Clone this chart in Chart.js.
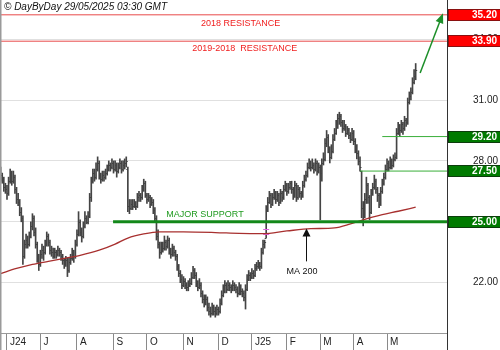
<!DOCTYPE html>
<html>
<head>
<meta charset="utf-8">
<script src="https://cdn.jsdelivr.net/npm/chart.js@4.4.1/dist/chart.umd.min.js"></script>
<style>
  html, body { margin: 0; padding: 0; background: #fff; }
  canvas { display: block; }
</style>
</head>
<body>
<canvas id="chart" width="500" height="350"></canvas>
<script>
// daily OHLC, one entry per session (index 0 = end of May 2024)
const opens = [
  27.5, 27.3, 27.1, 26.7, 26.6, 26.4, 27.0, 27.3, 27.0, 27.2,
  26.6, 26.1, 26.0, 25.5, 25.2, 23.3, 23.9, 24.1, 23.9, 24.3,
  24.8, 25.2, 24.5, 23.9, 23.2, 22.9, 23.4, 23.6, 23.5, 23.9,
  24.3, 24.0, 23.6, 23.5, 23.3, 23.5, 23.4, 23.6, 23.5, 23.3,
  23.1, 22.9, 23.1, 22.6, 23.0, 23.2, 23.4, 23.3, 23.9, 24.4,
  25.0, 24.5, 24.3, 24.8, 25.2, 25.0, 25.3, 26.2, 27.0, 27.4,
  27.2, 27.6, 27.9, 27.3, 27.1, 27.3, 27.2, 27.4, 27.6, 27.8,
  27.7, 27.9, 27.6, 27.8, 27.5, 27.7, 27.9, 27.6, 27.8, 27.9,
  27.6, 25.8, 25.7, 25.9, 25.8, 25.9, 25.8, 26.2, 26.3, 26.2,
  26.6, 26.9, 26.3, 26.1, 26.2, 25.9, 26.0, 25.6, 25.2, 24.3,
  23.9, 23.5, 23.8, 23.7, 24.0, 23.8, 24.1, 23.6, 23.4, 23.7,
  23.5, 23.3, 22.8, 22.5, 22.2, 21.9, 22.1, 21.9, 21.8, 21.9,
  22.0, 22.3, 22.6, 22.4, 22.0, 21.8, 21.9, 21.5, 21.2, 21.0,
  21.2, 20.8, 20.6, 20.5, 20.8, 20.6, 20.5, 20.7, 20.6, 21.0,
  21.4, 21.6, 21.9, 21.7, 21.9, 21.8, 21.7, 21.9, 21.8, 21.7,
  21.5, 21.8, 21.6, 21.5, 21.3, 21.7, 22.2, 22.4, 22.3, 22.5,
  22.4, 22.7, 22.8, 22.9, 22.8, 23.5, 23.9, 24.2, 25.6, 26.0,
  26.3, 25.9, 26.2, 26.4, 26.1, 26.3, 26.0, 26.4, 26.2, 26.6,
  26.8, 26.5, 26.7, 26.9, 26.6, 26.3, 26.8, 26.2, 26.6, 26.4,
  26.3, 26.8, 27.1, 27.3, 27.7, 27.9, 27.7, 27.8, 27.6, 27.9,
  27.5, 27.7, 27.4, 27.9, 28.1, 28.9, 29.2, 28.6, 28.2, 28.5,
  29.1, 29.4, 29.8, 30.1, 30.2, 29.9, 29.6, 29.7, 29.4, 29.5,
  29.3, 29.1, 29.4, 29.0, 28.6, 28.4, 28.0, 27.5, 25.7, 25.3,
  26.1, 26.8, 26.2, 25.5, 26.4, 26.7, 27.0, 26.6, 26.3, 25.9,
  26.5, 26.9, 27.2, 27.6, 27.9, 27.7, 28.0, 27.8, 28.1, 28.2,
  29.4, 29.7, 29.5, 29.8, 29.6, 30.0, 29.9, 30.9, 31.2, 31.4,
  31.9, 32.2
];
const highs = [
  27.7, 27.4, 27.2, 26.9, 26.8, 27.2, 27.6, 27.5, 27.5, 27.3,
  26.7, 26.4, 26.1, 25.7, 25.3, 24.1, 24.4, 24.3, 24.5, 25.0,
  25.4, 25.3, 24.7, 24.0, 23.4, 23.6, 23.9, 23.8, 24.1, 24.5,
  24.4, 24.1, 23.8, 23.7, 23.7, 23.6, 23.8, 23.7, 23.6, 23.4,
  23.2, 23.3, 23.2, 23.2, 23.4, 23.7, 23.6, 24.1, 24.6, 25.5,
  25.1, 24.7, 25.0, 25.5, 25.3, 25.5, 26.4, 27.2, 27.6, 27.6,
  27.9, 28.2, 28.0, 27.4, 27.5, 27.5, 27.6, 27.8, 28.0, 27.9,
  28.1, 28.0, 28.0, 27.9, 27.9, 28.1, 28.0, 28.0, 28.1, 28.2,
  27.7, 26.1, 26.1, 26.1, 26.1, 26.0, 26.4, 26.5, 26.4, 26.8,
  27.1, 27.0, 26.4, 26.4, 26.3, 26.2, 26.1, 25.7, 25.3, 24.6,
  24.0, 24.0, 24.0, 24.3, 24.1, 24.3, 24.2, 23.7, 23.9, 23.8,
  23.6, 23.4, 22.9, 22.6, 22.4, 22.3, 22.2, 22.0, 22.1, 22.2,
  22.5, 22.8, 22.7, 22.5, 22.1, 22.2, 22.0, 21.6, 21.4, 21.4,
  21.3, 21.0, 20.8, 21.0, 20.9, 20.8, 20.9, 20.8, 21.2, 21.6,
  21.9, 22.1, 22.0, 22.1, 22.0, 21.9, 22.1, 22.0, 21.9, 21.8,
  22.0, 21.9, 21.7, 21.6, 21.9, 22.4, 22.6, 22.5, 22.7, 22.6,
  22.9, 23.0, 23.1, 23.0, 23.7, 24.1, 24.1, 25.8, 26.2, 26.5,
  26.4, 26.4, 26.6, 26.5, 26.5, 26.4, 26.6, 26.5, 26.8, 27.0,
  26.9, 26.9, 27.0, 27.0, 26.7, 27.0, 26.9, 26.8, 26.7, 26.5,
  27.0, 27.3, 27.5, 27.9, 28.1, 28.0, 28.1, 27.9, 28.1, 28.0,
  27.9, 27.8, 28.1, 28.4, 29.1, 29.5, 29.3, 28.7, 28.8, 29.3,
  29.6, 30.0, 30.3, 30.4, 30.3, 30.0, 30.0, 29.8, 29.7, 29.6,
  29.4, 29.6, 29.5, 29.1, 28.8, 28.5, 28.2, 27.5, 26.0, 26.4,
  27.2, 26.9, 26.3, 26.6, 26.9, 27.3, 27.1, 26.7, 26.4, 26.7,
  27.1, 27.4, 27.8, 28.1, 28.0, 28.2, 28.1, 28.3, 28.4, 29.6,
  29.9, 29.8, 30.0, 29.9, 30.2, 30.1, 31.1, 31.4, 31.6, 32.1,
  32.5, 32.8
];
const lows = [
  27.0, 26.9, 26.5, 26.4, 26.1, 26.3, 26.9, 26.8, 26.9, 26.4,
  25.9, 25.8, 25.3, 25.0, 22.9, 23.2, 23.7, 23.7, 23.8, 24.2,
  24.6, 24.3, 23.7, 23.0, 22.6, 22.8, 23.2, 23.1, 23.4, 23.8,
  23.8, 23.4, 23.3, 23.2, 23.2, 23.2, 23.3, 23.3, 23.1, 22.9,
  22.7, 22.8, 22.3, 22.5, 22.9, 23.1, 23.0, 23.2, 23.8, 24.3,
  24.3, 24.0, 24.2, 24.7, 24.9, 24.9, 25.2, 26.0, 26.9, 27.0,
  27.1, 27.5, 27.1, 26.9, 27.0, 27.0, 27.1, 27.3, 27.5, 27.5,
  27.6, 27.4, 27.5, 27.2, 27.4, 27.6, 27.4, 27.5, 27.6, 27.7,
  25.5, 25.4, 25.6, 25.6, 25.7, 25.6, 25.7, 26.0, 26.0, 26.1,
  26.5, 26.2, 25.9, 26.0, 25.7, 25.8, 25.4, 25.0, 24.1, 23.7,
  23.2, 23.4, 23.5, 23.6, 23.6, 23.7, 23.4, 23.2, 23.3, 23.3,
  23.1, 22.6, 22.3, 22.0, 21.7, 21.8, 21.7, 21.6, 21.6, 21.8,
  21.9, 22.2, 22.2, 21.8, 21.6, 21.7, 21.3, 21.0, 20.8, 20.9,
  20.6, 20.4, 20.3, 20.4, 20.4, 20.3, 20.4, 20.4, 20.5, 20.9,
  21.3, 21.5, 21.5, 21.6, 21.6, 21.5, 21.6, 21.6, 21.5, 21.3,
  21.4, 21.4, 21.3, 21.1, 20.7, 21.6, 22.1, 22.1, 22.2, 22.2,
  22.3, 22.6, 22.7, 22.6, 22.7, 23.4, 23.7, 24.2, 25.5, 25.9,
  25.7, 25.8, 26.1, 25.9, 26.0, 25.8, 25.9, 26.0, 26.1, 26.5,
  26.3, 26.4, 26.6, 26.4, 26.1, 26.2, 26.0, 26.1, 26.2, 26.1,
  26.2, 26.7, 27.0, 27.2, 27.6, 27.5, 27.6, 27.4, 27.5, 27.3,
  27.4, 25.1, 27.0, 27.8, 28.0, 28.7, 28.4, 27.9, 28.1, 28.4,
  29.0, 29.3, 29.6, 29.8, 29.7, 29.4, 29.5, 29.2, 29.3, 29.1,
  28.9, 29.0, 28.8, 28.4, 28.1, 27.8, 27.5, 25.2, 24.8, 25.2,
  25.9, 25.9, 25.1, 25.4, 26.3, 26.6, 26.4, 26.0, 25.7, 25.8,
  26.4, 26.8, 27.1, 27.5, 27.5, 27.6, 27.6, 27.7, 28.0, 28.1,
  29.3, 29.2, 29.4, 29.3, 29.5, 29.7, 29.8, 30.8, 31.0, 31.3,
  31.8, 32.0
];
const closes = [
  27.3, 27.1, 26.7, 26.6, 26.4, 27.0, 27.3, 27.0, 27.2, 26.6,
  26.1, 26.0, 25.5, 25.2, 23.3, 23.9, 24.1, 23.9, 24.3, 24.8,
  25.2, 24.5, 23.9, 23.2, 22.9, 23.4, 23.6, 23.5, 23.9, 24.3,
  24.0, 23.6, 23.5, 23.3, 23.5, 23.4, 23.6, 23.5, 23.3, 23.1,
  22.9, 23.1, 22.6, 23.0, 23.2, 23.4, 23.3, 23.9, 24.4, 25.0,
  24.5, 24.3, 24.8, 25.2, 25.0, 25.3, 26.2, 27.0, 27.4, 27.2,
  27.6, 27.9, 27.3, 27.1, 27.3, 27.2, 27.4, 27.6, 27.8, 27.7,
  27.9, 27.6, 27.8, 27.5, 27.7, 27.9, 27.6, 27.8, 27.9, 28.0,
  25.8, 25.7, 25.9, 25.8, 25.9, 25.8, 26.2, 26.3, 26.2, 26.6,
  26.9, 26.3, 26.1, 26.2, 25.9, 26.0, 25.6, 25.2, 24.3, 23.9,
  23.5, 23.8, 23.7, 24.0, 23.8, 24.1, 23.6, 23.4, 23.7, 23.5,
  23.3, 22.8, 22.5, 22.2, 21.9, 22.1, 21.9, 21.8, 21.9, 22.0,
  22.3, 22.6, 22.4, 22.0, 21.8, 21.9, 21.5, 21.2, 21.0, 21.2,
  20.8, 20.6, 20.5, 20.8, 20.6, 20.5, 20.7, 20.6, 21.0, 21.4,
  21.6, 21.9, 21.7, 21.9, 21.8, 21.7, 21.9, 21.8, 21.7, 21.5,
  21.8, 21.6, 21.5, 21.3, 21.7, 22.2, 22.4, 22.3, 22.5, 22.4,
  22.7, 22.8, 22.9, 22.8, 23.5, 23.9, 24.0, 25.6, 26.0, 26.3,
  25.9, 26.2, 26.4, 26.1, 26.3, 26.0, 26.4, 26.2, 26.6, 26.8,
  26.5, 26.7, 26.9, 26.6, 26.3, 26.8, 26.2, 26.6, 26.4, 26.3,
  26.8, 27.1, 27.3, 27.7, 27.9, 27.7, 27.8, 27.6, 27.9, 27.5,
  27.7, 27.4, 27.9, 28.1, 28.9, 29.2, 28.6, 28.2, 28.5, 29.1,
  29.4, 29.8, 30.1, 30.2, 29.9, 29.6, 29.7, 29.4, 29.5, 29.3,
  29.1, 29.4, 29.0, 28.6, 28.4, 28.0, 27.7, 25.7, 25.3, 26.1,
  26.8, 26.2, 25.5, 26.4, 26.7, 27.0, 26.6, 26.3, 25.9, 26.5,
  26.9, 27.2, 27.6, 27.9, 27.7, 28.0, 27.8, 28.1, 28.2, 29.4,
  29.7, 29.5, 29.8, 29.6, 30.0, 29.9, 30.9, 31.2, 31.4, 31.9,
  32.2, 32.5
];

// 200-day moving average, sampled at session indices
const maIndex = [0, 10, 20, 30, 40, 50, 62, 72, 80, 90, 100, 115, 135, 150, 165, 180, 195, 210, 220, 230, 240, 250, 261];
const maValues = [22.45, 22.7, 22.9, 23.05, 23.2, 23.35, 23.6, 23.9, 24.2, 24.4, 24.5, 24.5, 24.47, 24.43, 24.42, 24.55, 24.66, 24.7, 24.9, 25.15, 25.35, 25.52, 25.72];

// month boundaries on the session axis
const monthStarts = [4, 25, 48, 71, 92, 115, 137, 158, 180, 201, 222, 243];
const monthLabels = ['J24', 'J', 'A', 'S', 'O', 'N', 'D', 'J25', 'F', 'M', 'A', 'M'];

// support / resistance levels and the session where each line starts
const levelValues = [35.2, 33.9, 29.2, 27.5, 25.0];
const levelFrom = [-0.4, -0.4, 240, 226, 70.7];
const yTicks = [22, 25, 28, 31, 34];

const X_MIN = -0.4, X_MAX = 280.7, Y_MIN = 19.52, Y_MAX = 35.93;

Chart.defaults.font.family = '"Liberation Sans", Arial, sans-serif';

function levelColor(v) {
  if (v > 33) return '#e84a4a';
  if (v === 25) return '#13881a';
  return '#3aae3a';
}

const overlay = {
  id: 'overlay',
  afterDatasetDraw(chart, args) {
    if (args.index !== 0) return;
    // open / close ticks of the OHLC bars
    const { ctx, chartArea, scales: { x, y } } = chart;
    ctx.save();
    ctx.beginPath();
    ctx.rect(chartArea.left, chartArea.top, chartArea.width, chartArea.height);
    ctx.clip();
    ctx.strokeStyle = '#444';
    ctx.lineWidth = 1;
    ctx.beginPath();
    closes.forEach((c, i) => {
      const px = x.getPixelForValue(i);
      const yo = Math.round(y.getPixelForValue(opens[i])) + 0.5;
      const yc = Math.round(y.getPixelForValue(c)) + 0.5;
      ctx.moveTo(px - 1.5, yo); ctx.lineTo(px, yo);
      ctx.moveTo(px, yc); ctx.lineTo(px + 1.5, yc);
    });
    ctx.stroke();
    // highlighted crossing session
    const pk = x.getPixelForValue(167);
    ctx.strokeStyle = '#e060e0';
    ctx.beginPath();
    [24.63, 24.4].forEach(v => {
      const py = Math.round(y.getPixelForValue(v)) + 0.5;
      ctx.moveTo(pk - 3, py); ctx.lineTo(pk + 3, py);
    });
    ctx.stroke();
    ctx.restore();
  },
  afterDraw(chart) {
    const { ctx, scales: { x, y } } = chart;
    const X = v => x.getPixelForValue(v);
    const Y = v => y.getPixelForValue(v);
    ctx.save();

    // frame lines
    ctx.fillStyle = '#9a9a9a';
    ctx.fillRect(0, 0, 1.5, 350);
    ctx.fillStyle = '#333';
    ctx.fillRect(447, 0, 1, 350);

    // header
    ctx.fillStyle = '#111';
    ctx.font = 'italic 10px "Liberation Sans", Arial, sans-serif';
    ctx.textAlign = 'left';
    ctx.textBaseline = 'middle';
    ctx.fillText('\u00A9 DayByDay 29/05/2025 03:30 GMT', 4, 7.5);

    // level captions
    ctx.font = '9px "Liberation Sans", Arial, sans-serif';
    ctx.textAlign = 'center';
    ctx.fillStyle = '#f02020';
    ctx.fillText('2018 RESISTANCE', X(150.9), Y(35.2) + 8.5);
    ctx.fillText('2019-2018  RESISTANCE', X(153.5), Y(33.9) + 7);
    ctx.fillStyle = '#1f9a1f';
    ctx.fillText('MAJOR SUPPORT', X(128.5), Y(25) - 7.5);
    ctx.fillStyle = '#111';
    ctx.fillText('MA 200', X(189.5), Y(22.53));

    // MA 200 pointer
    const ax = Math.round(X(192)) + 0.5;
    ctx.strokeStyle = '#111';
    ctx.lineWidth = 1;
    ctx.beginPath();
    ctx.moveTo(ax, Y(23.05)); ctx.lineTo(ax, Y(24.3));
    ctx.stroke();
    ctx.fillStyle = '#111';
    ctx.beginPath();
    ctx.moveTo(ax, Y(24.67));
    ctx.lineTo(ax - 4, Y(24.27));
    ctx.lineTo(ax + 4, Y(24.27));
    ctx.closePath();
    ctx.fill();

    // trend arrow
    const x1 = X(263.8), y1 = Y(32.33), x2 = X(278.2), y2 = Y(35.28);
    const ang = Math.atan2(y2 - y1, x2 - x1);
    ctx.strokeStyle = '#1d8f2a';
    ctx.fillStyle = '#1d8f2a';
    ctx.lineWidth = 1.5;
    ctx.beginPath();
    ctx.moveTo(x1, y1);
    ctx.lineTo(x2 - 7 * Math.cos(ang), y2 - 7 * Math.sin(ang));
    ctx.stroke();
    ctx.beginPath();
    ctx.moveTo(x2, y2);
    ctx.lineTo(x2 - 10 * Math.cos(ang) + 4 * Math.sin(ang), y2 - 10 * Math.sin(ang) - 4 * Math.cos(ang));
    ctx.lineTo(x2 - 10 * Math.cos(ang) - 4 * Math.sin(ang), y2 - 10 * Math.sin(ang) + 4 * Math.cos(ang));
    ctx.closePath();
    ctx.fill();

    // level value boxes on the price axis
    ctx.font = 'bold 10px "Liberation Sans", Arial, sans-serif';
    ctx.textAlign = 'right';
    ctx.textBaseline = 'middle';
    ctx.lineWidth = 1;
    levelValues.forEach(v => {
      const yc = Math.round(Y(v));
      const red = v > 33;
      ctx.fillStyle = red ? '#ff0000' : '#007a00';
      ctx.fillRect(448, yc - 6, 52, 12);
      ctx.strokeStyle = red ? '#8a1010' : '#0d3d0d';
      ctx.strokeRect(448.5, yc - 5.5, 52, 11);
      ctx.fillStyle = '#fff';
      ctx.fillText(v.toFixed(2), 497, yc + 0.5);
    });
    ctx.restore();
  }
};

new Chart(document.getElementById('chart'), {
  type: 'bar',
  data: {
    datasets: [
      {
        type: 'bar',
        data: lows.map((l, i) => ({ x: i, y: [l, highs[i]] })),
        backgroundColor: '#444',
        borderWidth: 0,
        barThickness: 1,
        grouped: false,
        order: 10
      },
      {
        type: 'line',
        data: maIndex.map((v, k) => ({ x: v, y: maValues[k] })),
        borderColor: '#a8302f',
        borderWidth: 1.3,
        pointRadius: 0,
        cubicInterpolationMode: 'monotone',
        order: 5
      },
      ...levelValues.map((v, k) => ({
        type: 'line',
        data: [{ x: levelFrom[k], y: v }, { x: X_MAX, y: v }],
        borderColor: levelColor(v),
        borderWidth: v === 25 ? 3 : 1,
        pointRadius: 0,
        order: 1
      }))
    ]
  },
  options: {
    responsive: false,
    animation: false,
    layout: { padding: 0 },
    plugins: {
      legend: { display: false },
      tooltip: { enabled: false }
    },
    scales: {
      x: {
        type: 'linear',
        position: 'bottom',
        offset: false,
        min: X_MIN,
        max: X_MAX,
        afterBuildTicks: s => { s.ticks = monthStarts.map(v => ({ value: v })); },
        afterFit: s => { s.height = 17; s.paddingLeft = 0; s.paddingRight = 0; },
        grid: { offset: false, drawOnChartArea: false, drawTicks: true, tickLength: 17, color: '#8a8a8a' },
        border: { display: true, color: '#999' },
        ticks: {
          callback: (v, i) => monthLabels[i],
          align: 'start',
          labelOffset: 3,
          padding: -14,
          autoSkip: false,
          maxRotation: 0,
          color: '#222',
          font: { size: 10 }
        }
      },
      y: {
        type: 'linear',
        position: 'right',
        min: Y_MIN,
        max: Y_MAX,
        afterBuildTicks: s => { s.ticks = yTicks.map(v => ({ value: v })); },
        afterFit: s => { s.width = 53; s.paddingTop = 0; s.paddingBottom = 0; },
        grid: { color: '#e0e0e0', drawTicks: false },
        border: { display: false },
        ticks: {
          callback: v => v.toFixed(2),
          padding: 26,
          color: '#222',
          font: { size: 10 }
        }
      }
    }
  },
  plugins: [overlay]
});
</script>
</body>
</html>
